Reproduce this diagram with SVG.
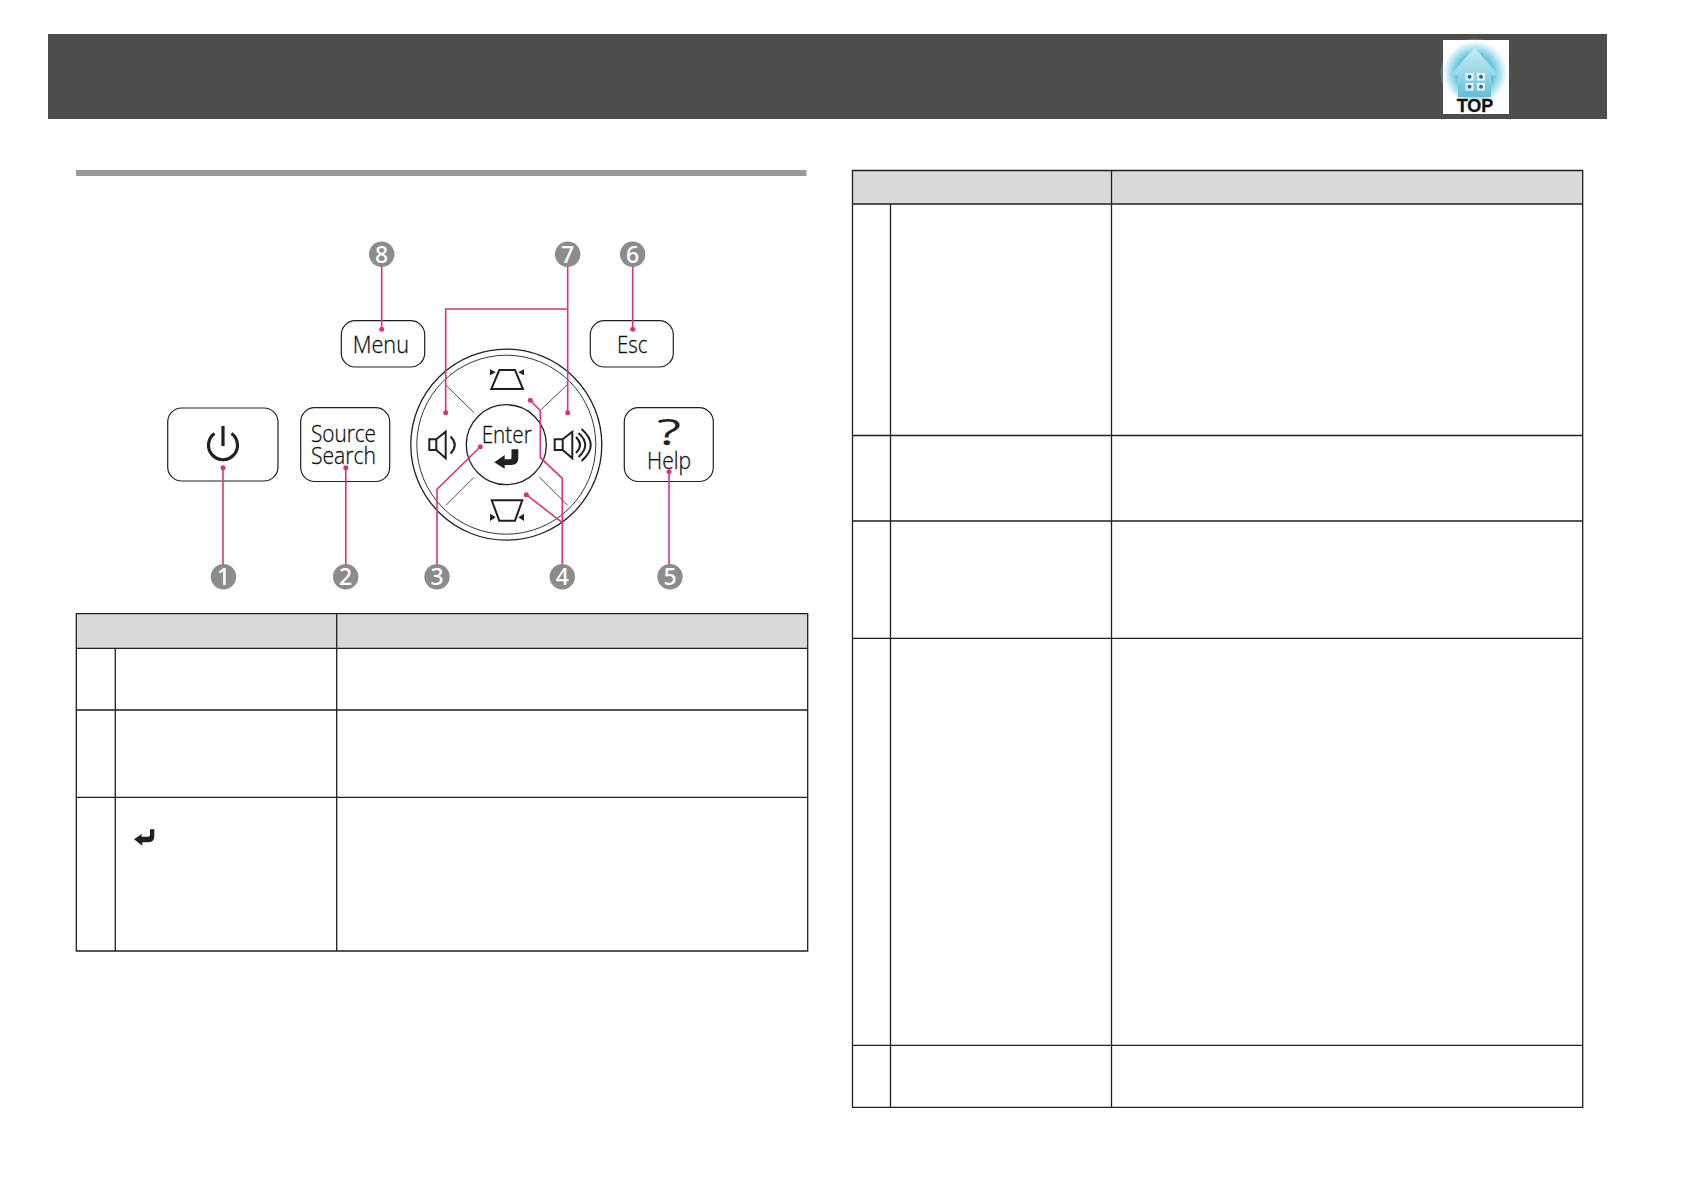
<svg xmlns="http://www.w3.org/2000/svg" width="1684" height="1190" viewBox="0 0 1684 1190">
<style>
.btn{fill:#fff;stroke:#231f20;stroke-width:1.2}
.t{font-family:"Open Sans","Noto Sans","Liberation Sans",sans-serif;font-size:23px;font-weight:300;fill:#111;stroke:#111;stroke-width:.3}
.ic{fill:none;stroke:#231f20;stroke-width:2}
.ik{fill:#231f20}
.thin{stroke:#231f20;stroke-width:.8;fill:none}
.co{fill:#8c8c8c}
.n{font-family:"Noto Sans","Open Sans","Liberation Sans",sans-serif;font-size:23px;fill:#fff;text-anchor:middle;font-weight:500}
.pk{fill:none;stroke:#d8327f;stroke-width:1.6;stroke-linejoin:miter}
.dot{fill:#d8327f}
.tb{fill:none;stroke:#231f20;stroke-width:1.3}
.hd{fill:#d9d9d9}
</style>
<defs>
<radialGradient id="glow" cx="50%" cy="50%" r="50%"><stop offset="0" stop-color="#2fa8c8"/><stop offset=".6" stop-color="#6cc8de"/><stop offset="1" stop-color="#fff"/></radialGradient>
<linearGradient id="house" x1="0" y1="0" x2="0" y2="1"><stop offset="0" stop-color="#c5ebf2"/><stop offset=".6" stop-color="#8fd4e4"/><stop offset="1" stop-color="#62bdd6"/></linearGradient>
</defs>
<rect width="1684" height="1190" fill="#fff"/>

<g id="header-band">
<rect x="48" y="34" width="1559" height="85" fill="#4d4d4d"/>
</g>
<g id="top-icon">
<circle cx="1475" cy="73" r="34.500" fill="#6e6e6e"/>
<rect x="1443" y="40" width="66" height="74" fill="#fff"/>
<circle cx="1475" cy="73" r="32" fill="url(#glow)"/>
<path d="M1474.500 47.500L1499 75.500H1491V97H1458V75.500H1450Z" fill="url(#house)"/>
<g fill="#e8f6fa"><rect x="1465.500" y="73" width="8" height="7.500"/><rect x="1477" y="73" width="8" height="7.500"/><rect x="1465.500" y="83" width="8" height="7.500"/><rect x="1477" y="83" width="8" height="7.500"/></g>
<g fill="#1f6f96"><circle cx="1469.500" cy="76.800" r="2"/><circle cx="1481" cy="76.800" r="2"/><circle cx="1469.500" cy="86.800" r="2"/><circle cx="1481" cy="86.800" r="2"/></g>
<text x="1475" y="112" text-anchor="middle" font-family="Liberation Sans,sans-serif" font-weight="700" font-size="18" fill="#111" stroke="#111" stroke-width=".3">TOP</text>
</g>
<rect id="section-rule" x="76" y="170" width="730.500" height="6" fill="#999"/>

<g id="power-button">
<rect class="btn" x="167.700" y="408" width="110.300" height="73" rx="14"/>
<path d="M214.500 433.500A14.500 14.500 0 1 0 231.500 433.500M223 426V446" fill="none" stroke="#231f20" stroke-width="3.200"/>
</g>
<g id="source-search-button">
<rect class="btn" x="300.700" y="407.700" width="89" height="73.800" rx="14"/>
<text class="t" x="311" y="442" textLength="65" lengthAdjust="spacingAndGlyphs">Source</text>
<text class="t" x="311" y="464.300" textLength="65" lengthAdjust="spacingAndGlyphs">Search</text>
</g>
<g id="menu-button">
<rect class="btn" x="341.300" y="320.700" width="83.400" height="46.300" rx="14"/>
<text class="t" x="352.700" y="352.800" textLength="56.300" lengthAdjust="spacingAndGlyphs">Menu</text>
</g>
<g id="esc-button">
<rect class="btn" x="590.300" y="320.700" width="83" height="46.300" rx="14"/>
<text class="t" x="617" y="352.800" textLength="30.500" lengthAdjust="spacingAndGlyphs">Esc</text>
</g>
<g id="help-button">
<rect class="btn" x="624.300" y="407.700" width="89" height="73.800" rx="14"/>
<text x="669" y="445" text-anchor="middle" font-family="Open Sans,Noto Sans,sans-serif" font-size="36" font-weight="400" fill="#231f20" textLength="24" lengthAdjust="spacingAndGlyphs">?</text>
<text class="t" x="647" y="468.500" textLength="44" lengthAdjust="spacingAndGlyphs">Help</text>
</g>
<g id="control-ring">
<circle cx="506.300" cy="444.700" r="95.500" fill="#fff" stroke="#231f20" stroke-width="1.300"/>
<circle cx="506.300" cy="444.700" r="89.500" fill="none" stroke="#231f20" stroke-width=".9"/>
<path class="thin" d="M445.700 385L474 412.700M567.700 384.300L540.300 410.300M474 477.300L446 505.300M539.300 477L567.700 505.300"/>
</g>
<g id="keystone-up">
<path class="ic" d="M499.300 370H515L523 389H491.300Z"/>
<path class="ik" d="M490 369.300V375.300L495.700 372.300ZM524 369.300V375.300L518.300 372.300Z"/>
</g>
<g id="keystone-down">
<path class="ic" d="M491.700 500.300H522.300L515 520.700H499.300Z"/>
<path class="ik" d="M490 513.700V521L495.700 517.300ZM524 513.700V521L518.300 517.300Z"/>
</g>
<g id="volume-down">
<path class="ic" d="M429.300 439.300H436.300V450H429.300ZM436.300 439.300L445.700 431.700V458.300L436.300 450M450.500 436.500Q459 445 450.500 453.500"/>
</g>
<g id="volume-up">
<path class="ic" d="M554.700 439.300H562.700V450H554.700ZM562.700 439.300L572.300 431.700V458.300L562.700 450M576 437Q584 445 576 453M578.500 433Q592 445 578.500 457M581.500 429Q600 445 581.500 461"/>
</g>
<g id="enter-button">
<circle cx="506.300" cy="444.700" r="40" fill="none" stroke="#231f20" stroke-width="1.300"/>
<text class="t" x="481.700" y="443" textLength="50" lengthAdjust="spacingAndGlyphs">Enter</text>
<path class="ik" d="M494.300 462.300L504.700 455V459.300H510Q511.500 459.300 511.500 457.800V449.300H518.300V458Q518.300 465 511.300 465H504.700V468.700Z"/>
</g>

<g id="connectors">
<path class="pk" d="M223 467.700V565"/><circle class="dot" cx="223" cy="467.700" r="2.500"/>
<path class="pk" d="M345.800 467.700V565"/><circle class="dot" cx="345.800" cy="467.700" r="2.500"/>
<path class="pk" d="M480.300 446.700L437 489.300V565"/><circle class="dot" cx="480.300" cy="446.700" r="2.500"/>
<path class="pk" d="M530.300 400.300L540.300 410.700V457.700L562.300 478.300V565M526.300 494.700L562.300 522.700"/><circle class="dot" cx="530.300" cy="400.300" r="2.500"/><circle class="dot" cx="526.300" cy="494.700" r="2.500"/>
<path class="pk" d="M669 471.700V565"/><circle class="dot" cx="669" cy="471.700" r="2.500"/>
<path class="pk" d="M632.700 266V329.300"/><circle class="dot" cx="632.700" cy="329.300" r="2.500"/>
<path class="pk" d="M567.700 266V412.700M567.700 309H445.700V412.700"/><circle class="dot" cx="567.700" cy="412.700" r="2.500"/><circle class="dot" cx="445.700" cy="412.700" r="2.500"/>
<path class="pk" d="M381.700 266V329.300"/><circle class="dot" cx="381.700" cy="329.300" r="2.500"/>
</g>

<g id="callout-1"><circle class="co" cx="223.500" cy="576.700" r="12.700"/><text class="n" x="223.500" y="585">1</text></g>
<g id="callout-2"><circle class="co" cx="345.700" cy="576.700" r="12.700"/><text class="n" x="345.700" y="585">2</text></g>
<g id="callout-3"><circle class="co" cx="437" cy="576.700" r="12.700"/><text class="n" x="437" y="585">3</text></g>
<g id="callout-4"><circle class="co" cx="562.300" cy="576.700" r="12.700"/><text class="n" x="562.300" y="585">4</text></g>
<g id="callout-5"><circle class="co" cx="670" cy="576.700" r="12.700"/><text class="n" x="670" y="585">5</text></g>
<g id="callout-6"><circle class="co" cx="632.700" cy="254.300" r="12.700"/><text class="n" x="632.700" y="262.600">6</text></g>
<g id="callout-7"><circle class="co" cx="567.700" cy="254.300" r="12.700"/><text class="n" x="567.700" y="262.600">7</text></g>
<g id="callout-8"><circle class="co" cx="381.700" cy="254.300" r="12.700"/><text class="n" x="381.700" y="262.600">8</text></g>

<g id="table-left">
<rect class="hd" x="76.300" y="613.700" width="731.400" height="34.600"/>
<path class="tb" d="M76.300 613.700H807.700V951H76.300ZM76.300 648.300H807.700M76.300 710H807.700M76.300 797.300H807.700M115.300 648.300V951M336.700 613.700V951"/>
<path class="ik" d="M134 839.300L141.700 834V836.800H148Q150 836.800 150 835V829.300H154.300V836Q154.300 842.300 148 842.300H142.300V845.700Z"/>
</g>
<g id="table-right">
<rect class="hd" x="852.500" y="170.500" width="730.200" height="33.500"/>
<path class="tb" d="M852.500 170.500H1582.700V1107.300H852.500ZM852.500 204H1582.700M852.500 435.500H1582.700M852.500 521H1582.700M852.500 638.300H1582.700M852.500 1045.300H1582.700M890.500 204V1107.300M1111.500 170.500V1107.300"/>
</g>
</svg>
